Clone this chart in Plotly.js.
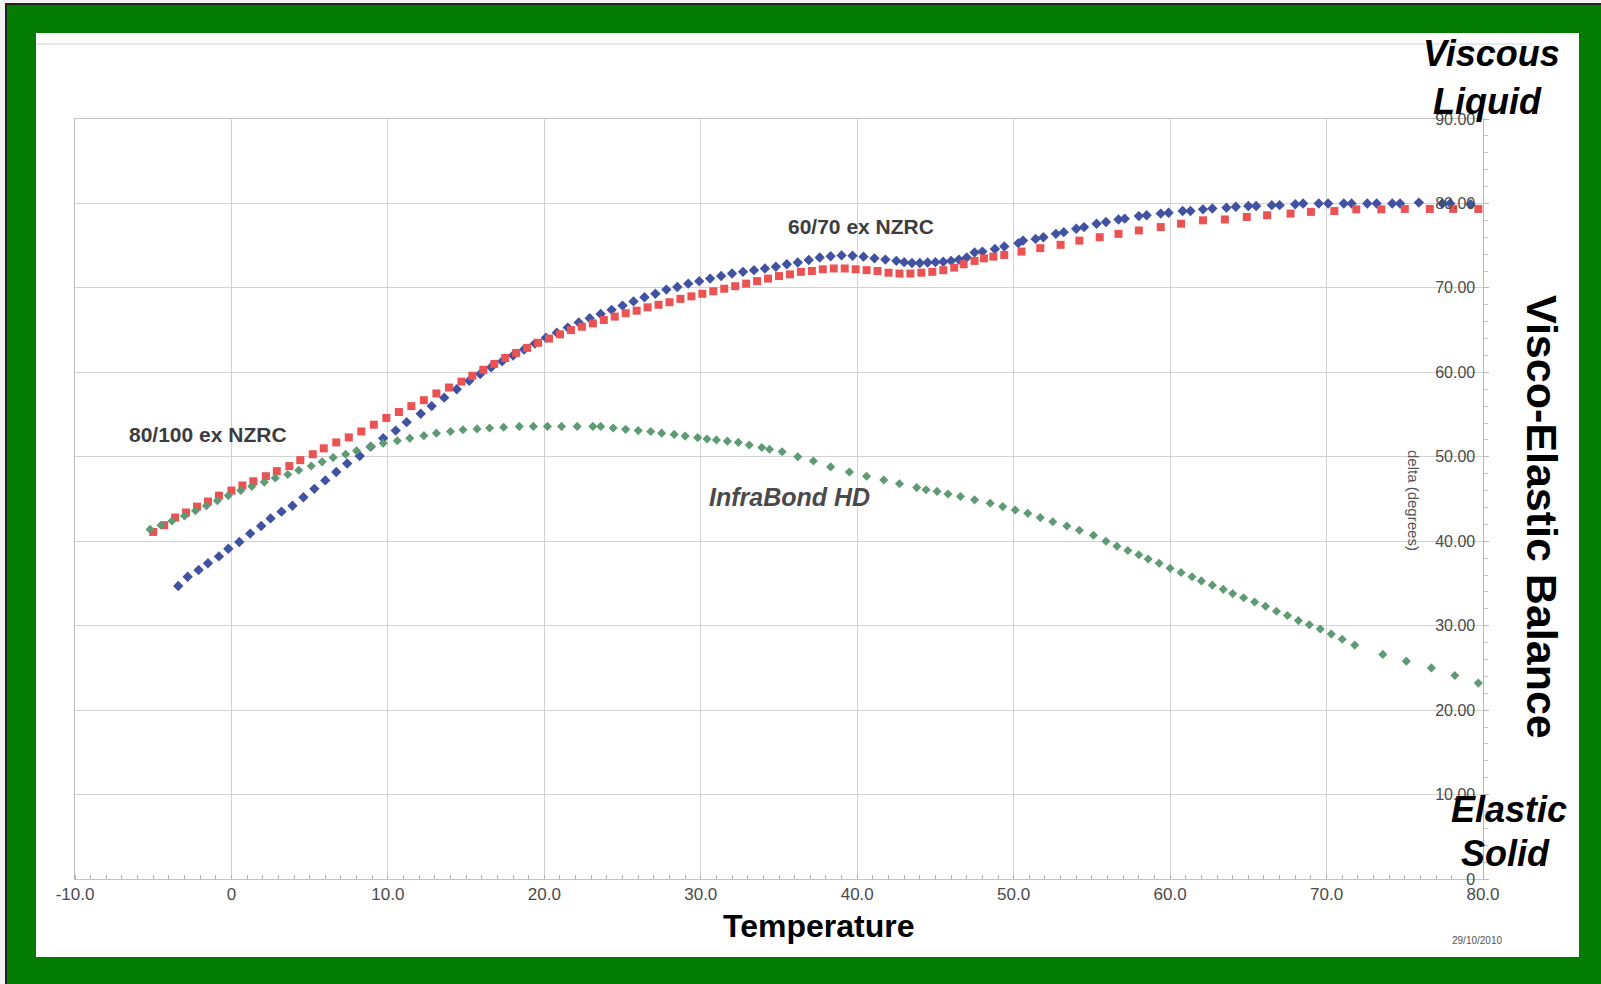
<!DOCTYPE html>
<html>
<head>
<meta charset="utf-8">
<script src="https://cdn.plot.ly/plotly-3.0.1.min.js"></script>
<style>html,body{margin:0;padding:0;background:#fff;}#chart{width:1601px;height:984px;}</style>
</head>
<body>
<div id="chart"></div>
<script>
// ---- Data ----
const xTickVals = [-10, 0, 10, 20, 30, 40, 50, 60, 70, 80];
const xTickText = ["-10.0", "0", "10.0", "20.0", "30.0", "40.0", "50.0", "60.0", "70.0", "80.0"];
const yTickVals = [0, 10, 20, 30, 40, 50, 60, 70, 80, 90];
const yTickText = ["0", "10.00", "20.00", "30.00", "40.00", "50.00", "60.00", "70.00", "80.00", "90.00"];

// 60/70 ex NZRC (blue diamonds)
const blueTemp = [-3.4,-2.8,-2.1,-1.5,-0.8,-0.2,0.5,1.2,1.9,2.5,3.2,3.9,4.6,5.3,6.0,6.7,7.4,8.2,8.9,9.7,10.5,11.2,12.1,12.8,13.6,14.4,15.2,15.9,16.6,17.3,18.0,18.7,19.4,20.1,20.8,21.5,22.2,22.9,23.6,24.3,25.0,25.7,26.4,27.1,27.8,28.5,29.2,29.9,30.6,31.3,32.0,32.7,33.4,34.1,34.8,35.5,36.2,36.9,37.6,38.3,39.0,39.7,40.4,41.1,41.8,42.5,43.0,43.5,44.0,44.5,45.0,45.5,46.0,46.5,47.0,47.5,48.0,48.8,49.4,50.3,50.6,51.4,51.9,52.7,53.2,54.0,54.5,55.3,55.9,56.7,57.1,58.0,58.5,59.4,59.9,60.8,61.3,62.1,62.7,63.6,64.2,65.0,65.5,66.5,67.0,68.0,68.5,69.5,70.1,71.1,71.6,72.6,73.2,74.2,74.7,75.9,77.4,77.9,79.2];
const blueDelta = [34.7,35.8,36.6,37.4,38.2,39.1,39.9,40.9,41.8,42.7,43.5,44.2,45.2,46.2,47.2,48.2,49.2,50.1,51.2,52.2,53.1,54.1,55.1,56.0,57.0,58.0,59.0,59.8,60.6,61.3,62.0,62.7,63.4,64.1,64.7,65.3,65.9,66.4,66.9,67.4,67.9,68.4,68.9,69.3,69.8,70.1,70.5,70.8,71.1,71.4,71.7,71.9,72.1,72.3,72.5,72.8,73.0,73.3,73.6,73.75,73.85,73.8,73.7,73.5,73.35,73.2,73.05,72.95,72.95,73.0,73.05,73.1,73.2,73.35,73.6,74.2,74.3,74.6,74.9,75.3,75.6,75.8,76.0,76.4,76.6,77.0,77.2,77.6,77.8,78.1,78.2,78.5,78.6,78.8,78.9,79.1,79.1,79.3,79.4,79.5,79.6,79.7,79.7,79.8,79.8,79.9,80.0,80.0,80.0,80.0,80.0,80.0,80.0,80.0,80.0,80.1,80.0,80.0,79.9];

// 80/100 ex NZRC (red squares)
const redTemp = [-5.0,-4.3,-3.6,-2.9,-2.2,-1.5,-0.8,0.0,0.7,1.4,2.2,2.9,3.7,4.4,5.2,5.9,6.7,7.5,8.3,9.1,9.9,10.7,11.5,12.3,13.1,13.9,14.7,15.4,16.1,16.8,17.5,18.2,18.9,19.6,20.3,21.0,21.7,22.4,23.1,23.8,24.5,25.2,25.9,26.6,27.3,28.0,28.7,29.4,30.1,30.8,31.5,32.2,32.9,33.6,34.3,35.0,35.7,36.4,37.1,37.8,38.5,39.2,39.9,40.6,41.3,42.0,42.7,43.4,44.1,44.8,45.5,46.2,46.8,47.5,48.1,48.7,49.4,50.5,51.7,53.0,54.2,55.5,56.7,58.0,59.4,60.7,62.1,63.5,64.9,66.2,67.7,69.0,70.5,71.9,73.5,75.0,76.6,78.1,79.7];
const redDelta = [41.1,41.9,42.8,43.4,44.1,44.7,45.4,46.0,46.6,47.1,47.7,48.3,48.9,49.6,50.3,51.0,51.7,52.3,53.0,53.8,54.6,55.3,56.0,56.7,57.5,58.2,58.9,59.6,60.3,61.0,61.7,62.3,62.9,63.5,64.0,64.5,65.0,65.4,65.8,66.2,66.6,67.0,67.3,67.7,68.0,68.3,68.7,69.0,69.3,69.6,69.9,70.2,70.5,70.8,71.1,71.4,71.6,71.9,72.0,72.2,72.3,72.3,72.2,72.1,72.0,71.8,71.7,71.7,71.8,71.9,72.1,72.4,72.8,73.2,73.5,73.7,73.9,74.3,74.7,75.1,75.6,76.0,76.4,76.8,77.2,77.6,78.0,78.1,78.4,78.6,78.8,79.0,79.1,79.3,79.3,79.35,79.35,79.35,79.35];

// InfraBond HD (green)
const greenTemp = [-5.2,-4.5,-3.8,-3.0,-2.3,-1.6,-0.9,-0.2,0.6,1.3,2.1,2.8,3.6,4.3,5.1,5.8,6.5,7.3,8.0,8.9,9.7,10.6,11.4,12.3,13.1,14.0,14.8,15.7,16.5,17.4,18.4,19.3,20.2,21.1,22.1,23.1,23.6,24.4,25.2,26.0,26.8,27.5,28.3,29.0,29.8,30.4,31.0,31.7,32.4,33.1,33.9,34.4,35.2,36.2,37.2,38.3,39.5,40.6,41.7,42.7,43.8,44.4,45.1,45.8,46.6,47.5,48.5,49.3,50.1,50.9,51.7,52.5,53.4,54.2,55.1,55.9,56.6,57.3,58.0,58.6,59.3,60.0,60.7,61.4,62.0,62.7,63.4,64.0,64.7,65.4,66.1,66.8,67.5,68.2,68.9,69.6,70.3,71.0,71.8,73.6,75.1,76.7,78.2,79.7];
const greenDelta = [41.4,41.9,42.4,43.0,43.6,44.2,44.8,45.4,46.0,46.5,47.0,47.5,47.9,48.4,48.9,49.4,49.9,50.3,50.7,51.2,51.6,51.9,52.2,52.5,52.8,53.0,53.2,53.3,53.4,53.5,53.6,53.6,53.6,53.6,53.6,53.6,53.6,53.4,53.25,53.1,53.0,52.8,52.65,52.45,52.27,52.1,52.0,51.85,51.7,51.4,51.1,50.9,50.6,50.0,49.5,48.8,48.2,47.7,47.25,46.8,46.35,46.1,45.9,45.6,45.3,44.9,44.5,44.1,43.7,43.3,42.8,42.3,41.8,41.3,40.7,40.0,39.4,38.9,38.4,37.9,37.4,36.8,36.3,35.8,35.3,34.8,34.3,33.8,33.3,32.8,32.3,31.7,31.2,30.6,30.1,29.6,29.0,28.4,27.7,26.6,25.8,25.0,24.1,23.2];

// ---- Chart ----
const FONT = "Liberation Sans, Arial, Helvetica, sans-serif";
const W = 1601, H = 984;
const M = {l: 75, r: 118, t: 119, b: 105};
const pw = W - M.l - M.r, ph = H - M.t - M.b;
function px(x) { return (x - M.l) / pw; }
function py(y) { return (H - M.b - y) / ph; }

const traces = [
  {x: blueTemp, y: blueDelta, type: 'scatter', mode: 'markers', name: '60/70 ex NZRC',
   marker: {symbol: 'diamond', size: 8, color: '#4152a2'}},
  {x: redTemp, y: redDelta, type: 'scatter', mode: 'markers', name: '80/100 ex NZRC',
   marker: {symbol: 'square', size: 8, color: '#ea5253'}},
  {x: greenTemp, y: greenDelta, type: 'scatter', mode: 'markers', name: 'InfraBond HD',
   marker: {symbol: 'diamond', size: 7, color: '#5e9a73'}}
];

function ann(text, x, y, size, opts) {
  return Object.assign({text: text, xref: 'paper', yref: 'paper', x: px(x), y: py(y),
    xanchor: 'center', yanchor: 'middle', showarrow: false,
    font: {family: FONT, size: size, color: '#000'}}, opts || {});
}

const layout = {
  width: W, height: H, autosize: false,
  margin: M,
  paper_bgcolor: '#027c02',
  plot_bgcolor: '#ffffff',
  showlegend: false,
  font: {family: FONT},
  xaxis: {
    range: [-10.0001, 80.0001], tickmode: 'array', tickvals: xTickVals, ticktext: xTickText,
    showgrid: true, gridcolor: '#d2d2d2', gridwidth: 1, zeroline: false,
    showline: true, linecolor: '#c4c4c4', linewidth: 1, mirror: true,
    ticks: '', tickfont: {family: FONT, size: 17, color: '#4a4a4a'},
    ticklabeloverflow: 'allow',
    minor: {dtick: 1, ticks: 'inside', ticklen: 4, tickcolor: '#b0b0b0', showgrid: false}
  },
  yaxis: {
    range: [-0.0001, 90.0001], side: 'right', tickmode: 'array', tickvals: yTickVals, ticktext: yTickText,
    ticklabelposition: 'inside', ticklabeloverflow: 'allow', ticklabelstandoff: 8,
    showgrid: true, gridcolor: '#d2d2d2', gridwidth: 1, zeroline: false,
    showline: true, linecolor: '#b8b8b8', linewidth: 1, mirror: true,
    ticks: 'outside', ticklen: 5, tickcolor: '#b8b8b8',
    tickfont: {family: FONT, size: 16, color: '#4a4a4a'},
    minor: {dtick: 2, ticks: 'outside', ticklen: 4, tickcolor: '#c4c4c4', showgrid: false}
  },
  shapes: [
    {type: 'rect', xref: 'paper', yref: 'paper', x0: px(36), x1: px(1579), y0: py(957), y1: py(33),
     fillcolor: '#ffffff', line: {width: 0}, layer: 'below'},
    {type: 'line', xref: 'paper', yref: 'paper', x0: px(36), x1: px(1532), y0: py(44), y1: py(44),
     line: {color: '#e2e2e2', width: 1.5}, layer: 'below'},
    {type: 'rect', xref: 'paper', yref: 'paper', x0: px(0), x1: px(1601), y0: py(3), y1: py(0),
     fillcolor: '#f2f2f2', line: {width: 0}, layer: 'below'},
    {type: 'rect', xref: 'paper', yref: 'paper', x0: px(0), x1: px(5), y0: py(984), y1: py(0),
     fillcolor: '#f2f2f2', line: {width: 0}, layer: 'below'},
    {type: 'line', xref: 'paper', yref: 'paper', x0: px(5), x1: px(1601), y0: py(4), y1: py(4),
     line: {color: '#222', width: 2}, layer: 'below'},
    {type: 'line', xref: 'paper', yref: 'paper', x0: px(6), x1: px(6), y0: py(984), y1: py(4),
     line: {color: '#222', width: 2}, layer: 'below'}
  ],
  annotations: [
    ann('<b><i>Viscous</i></b>', 1491, 53, 36),
    ann('<b><i>Liquid</i></b>', 1487, 102, 36),
    ann('<b><i>Elastic</i></b>', 1509, 809, 36),
    ann('<b><i>Solid</i></b>', 1505, 853, 36),
    ann('<b>Visco-Elastic Balance</b>', 1542, 517, 43, {textangle: 90}),
    ann('<b>Temperature</b>', 818, 926, 32),
    ann('<b>80/100 ex NZRC</b>', 127, 434, 21, {xanchor: 'left', font: {family: FONT, size: 21, color: '#3c3c3c'}}),
    ann('<b>60/70 ex NZRC</b>', 861, 226, 21, {font: {family: FONT, size: 21, color: '#3c3c3c'}}),
    ann('<b><i>InfraBond HD</i></b>', 789, 497, 25, {font: {family: FONT, size: 25, color: '#4a4a4a'}}),
    ann('delta (degrees)', 1413, 500, 15, {textangle: 90, font: {family: FONT, size: 15, color: '#555'}}),
    ann('29/10/2010', 1477, 941, 10, {font: {family: FONT, size: 10, color: '#555'}})
  ]
};

Plotly.newPlot('chart', traces, layout, {displayModeBar: false, staticPlot: true});
</script>
</body>
</html>
